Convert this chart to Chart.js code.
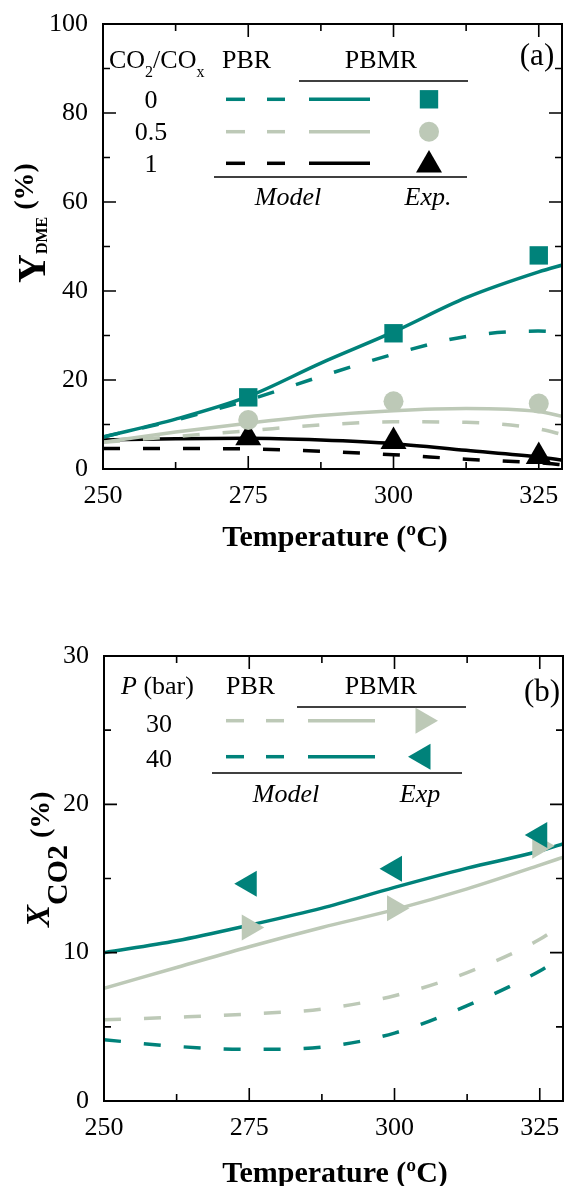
<!DOCTYPE html>
<html><head><meta charset="utf-8">
<script src="https://cdn.jsdelivr.net/npm/chart.js@4.4.1/dist/chart.umd.min.js"></script>
<style>
html,body{margin:0;padding:0;background:#fff;width:568px;height:1186px;overflow:hidden}
#ca{position:absolute;left:0;top:0}
#cb{position:absolute;left:0;top:590px}
</style></head><body>
<canvas id="ca" width="568" height="560"></canvas>
<canvas id="cb" width="568" height="596"></canvas>
<script>
// ---------- data ----------
const modelT = [250, 262.5, 275, 287.5, 300, 312.5, 325, 329.5];
const expT = [275, 300, 325];
// (a) DME yield (%)
const a_PBR_0    = [7.2, 11.0, 15.5, 20.8, 25.8, 29.8, 31.0, 30.6];
const a_PBMR_0   = [7.2, 11.2, 16.3, 23.8, 30.8, 38.5, 44.3, 46.0];
const a_PBR_05   = [6.0, 7.3, 8.6, 9.9, 10.6, 10.5, 9.0, 7.6];
const a_PBMR_05  = [6.0, 8.3, 10.3, 12.0, 13.1, 13.6, 12.9, 11.7];
const a_PBR_1    = [4.6, 4.6, 4.5, 4.0, 3.2, 2.2, 1.4, 0.9];
const a_PBMR_1   = [6.5, 6.8, 6.9, 6.5, 5.7, 4.2, 2.7, 1.9];
const a_Exp_0    = [16.1, 30.5, 48.0];
const a_Exp_05   = [11.0, 15.2, 14.7];
const a_Exp_1    = [7.0, 6.2, 2.8];
const a_xTicks = [250, 275, 300, 325];
const a_yTicks = [0, 20, 40, 60, 80, 100];
// (b) CO2 conversion (%)
const b_PBR_30   = [5.47, 5.65, 5.87, 6.2, 7.1, 8.66, 10.9, 12.1];
const b_PBMR_30  = [7.6, 9.0, 10.4, 11.7, 12.9, 14.3, 15.9, 16.5];
const b_PBR_40   = [4.13, 3.68, 3.48, 3.64, 4.58, 6.43, 8.77, 9.9];
const b_PBMR_40  = [10.0, 10.8, 11.85, 13.0, 14.4, 15.7, 16.85, 17.4];
const b_Exp_30   = [11.7, 13.0, 17.2];
const b_Exp_40   = [14.65, 15.66, 17.93];
const b_yTicks = [0, 10, 20, 30];

const TEAL = '#00827A', SAGE = '#BDC9B7', BLACK = '#000000';
const F = "'Liberation Serif', 'Times New Roman', serif";
const DASH = [17, 23];

const pts = (xs, ys) => xs.map((x, i) => ({x, y: ys[i]}));

function lineDS(ys, color, dashed) {
  return {type: 'line', data: pts(modelT, ys), borderColor: color, borderWidth: 3.5,
    borderDash: dashed ? DASH : [], pointRadius: 0, cubicInterpolationMode: 'monotone', fill: false};
}
function expDS(ys, color, style, r, rot) {
  return {type: 'line', data: pts(expT, ys), showLine: false, pointStyle: style, pointRadius: r,
    pointRotation: rot || 0, backgroundColor: color, borderColor: color, borderWidth: 0, pointHoverRadius: r};
}

// ---------- drawing helpers ----------
function rich(ctx, x, y, parts, align) {
  let w = 0;
  for (const p of parts) { ctx.font = p.f; w += ctx.measureText(p.t).width; }
  let cx = align === 'center' ? x - w / 2 : x;
  ctx.textBaseline = 'alphabetic'; ctx.textAlign = 'left';
  for (const p of parts) { ctx.font = p.f; ctx.fillText(p.t, cx, y + (p.dy || 0)); cx += ctx.measureText(p.t).width; }
}
function richRot(ctx, x, y, parts) {
  ctx.save(); ctx.translate(x, y); ctx.rotate(-Math.PI / 2);
  rich(ctx, 0, 0, parts); ctx.restore();
}
function marker(ctx, type, x, y, r, rotDeg, color) {
  ctx.save(); ctx.fillStyle = color; ctx.beginPath();
  if (type === 'rect') { const s = r * Math.SQRT1_2; ctx.rect(x - s, y - s, 2 * s, 2 * s); }
  else if (type === 'circle') { ctx.arc(x, y, r, 0, Math.PI * 2); }
  else { let rad = (rotDeg || 0) * Math.PI / 180;
    ctx.moveTo(x + Math.sin(rad) * r, y - Math.cos(rad) * r); rad += 2 * Math.PI / 3;
    ctx.lineTo(x + Math.sin(rad) * r, y - Math.cos(rad) * r); rad += 2 * Math.PI / 3;
    ctx.lineTo(x + Math.sin(rad) * r, y - Math.cos(rad) * r); ctx.closePath(); }
  ctx.fill(); ctx.restore();
}
function hline(ctx, x1, x2, y, w, color, dash) {
  ctx.save(); ctx.strokeStyle = color; ctx.lineWidth = w; ctx.setLineDash(dash || []);
  ctx.beginPath(); ctx.moveTo(x1, y); ctx.lineTo(x2, y); ctx.stroke(); ctx.restore();
}

const frameTicks = {
  id: 'frameTicks',
  afterDatasetsDraw(chart) {
    const {ctx, chartArea: a, scales: {x, y}} = chart;
    ctx.save(); ctx.strokeStyle = '#000'; ctx.lineWidth = 1.6;
    const both = (sc, horiz) => {
      const tv = sc.ticks.map(t => t.value); const st = tv[1] - tv[0];
      const list = [];
      tv.forEach(v => { list.push([v, 13]); if (v + st / 2 < sc.max) list.push([v + st / 2, 7]); });
      list.forEach(([v, L]) => {
        const p = sc.getPixelForValue(v);
        ctx.beginPath();
        if (horiz) { ctx.moveTo(p, a.bottom); ctx.lineTo(p, a.bottom - L); ctx.moveTo(p, a.top); ctx.lineTo(p, a.top + L); }
        else { ctx.moveTo(a.left, p); ctx.lineTo(a.left + L, p); ctx.moveTo(a.right, p); ctx.lineTo(a.right - L, p); }
        ctx.stroke();
      });
    };
    both(x, true); both(y, false);
    ctx.lineWidth = 2;
    ctx.strokeRect(a.left, a.top, a.right - a.left, a.bottom - a.top);
    ctx.restore();
  }
};

function baseOptions(xmin, xmax, xTicks, ymin, ymax, yTicks, padTop, xH, yW, padRight) {
  return {
    responsive: false, devicePixelRatio: 1, animation: false, events: [],
    layout: {autoPadding: false, padding: {top: padTop, right: padRight, left: 0, bottom: 0}},
    plugins: {legend: {display: false}, title: {display: false}, tooltip: {enabled: false}},
    scales: {
      x: {type: 'linear', min: xmin, max: xmax,
        afterFit(s) { s.height = xH; s.paddingLeft = 0; s.paddingRight = 0; },
        afterBuildTicks(s) { s.ticks = xTicks.map(v => ({value: v})); },
        ticks: {font: {family: F, size: 26}, color: '#000', padding: 12, maxRotation: 0, autoSkip: false},
        grid: {display: false, drawTicks: false}, border: {display: false}},
      y: {type: 'linear', min: ymin, max: ymax,
        afterFit(s) { s.width = yW; s.paddingTop = 0; s.paddingBottom = 0; },
        afterBuildTicks(s) { s.ticks = yTicks.map(v => ({value: v})); },
        ticks: {font: {family: F, size: 26}, color: '#000', padding: 15, autoSkip: false},
        grid: {display: false, drawTicks: false}, border: {display: false}}
    }
  };
}

// ---------- chart (a) ----------
const legendA = {
  id: 'legendA',
  afterDraw(chart) {
    const ctx = chart.ctx; ctx.save(); ctx.fillStyle = '#000';
    const R = '26px ' + F, S = '16px ' + F, I = 'italic 26px ' + F;
    rich(ctx, 109, 68, [{t: 'CO', f: R}, {t: '2', f: S, dy: 9}, {t: '/CO', f: R}, {t: 'x', f: S, dy: 9}]);
    rich(ctx, 222, 68, [{t: 'PBR', f: R}]);
    rich(ctx, 381, 68, [{t: 'PBMR', f: R}], 'center');
    hline(ctx, 299, 468, 81, 1.5, '#000');
    const rows = [['0', 108, 99.3, TEAL, 'rect', 13, 99.3], ['0.5', 140, 131.7, SAGE, 'circle', 10, 131.7], ['1', 172, 163.3, BLACK, 'triangle', 15, 165]];
    rows.forEach(([lab, base, ly, col, st, r, my]) => {
      ctx.fillStyle = '#000'; rich(ctx, 151, base, [{t: lab, f: R}], 'center');
      hline(ctx, 226, 245, ly, 3.5, col); hline(ctx, 267, 285, ly, 3.5, col);
      hline(ctx, 309, 370, ly, 3.5, col);
      marker(ctx, st, 429, my, r, 0, col);
    });
    hline(ctx, 214, 467, 177, 1.5, '#000');
    ctx.fillStyle = '#000';
    rich(ctx, 288, 205, [{t: 'Model', f: I}], 'center');
    rich(ctx, 428, 205, [{t: 'Exp.', f: I}], 'center');
    rich(ctx, 537, 65, [{t: '(a)', f: '31px ' + F}], 'center');
    // axis titles
    const B = 'bold 28px ' + F;
    rich(ctx, 335, 546, [{t: 'Temperature (ºC)', f: 'bold 30px ' + F}], 'center');
    richRot(ctx, 45, 283, [{t: 'Y', f: 'bold 40px ' + F}, {t: 'DME', f: 'bold 16px ' + F, dy: 2}, {t: ' (%)', f: B, dy: -12}]);
    ctx.restore();
  }
};

new Chart(document.getElementById('ca'), {
  type: 'line',
  data: {datasets: [
    expDS(a_Exp_0, TEAL, 'rect', 13), expDS(a_Exp_05, SAGE, 'circle', 10), expDS(a_Exp_1, BLACK, 'triangle', 15),
    lineDS(a_PBMR_0, TEAL, false), lineDS(a_PBR_0, TEAL, true),
    lineDS(a_PBMR_05, SAGE, false), lineDS(a_PBR_05, SAGE, true),
    lineDS(a_PBMR_1, BLACK, false), lineDS(a_PBR_1, BLACK, true)
  ]},
  options: baseOptions(250, 329, a_xTicks, 0, 100, a_yTicks, 24, 91, 103, 6),
  plugins: [frameTicks, legendA]
});

// ---------- chart (b) ----------
const OFF = 590;
const legendB = {
  id: 'legendB',
  afterDraw(chart) {
    const ctx = chart.ctx; ctx.save(); ctx.fillStyle = '#000';
    const R = '26px ' + F, I = 'italic 26px ' + F;
    rich(ctx, 121, 694 - OFF, [{t: 'P', f: I}, {t: ' (bar)', f: R}]);
    rich(ctx, 226, 694 - OFF, [{t: 'PBR', f: R}]);
    rich(ctx, 381, 694 - OFF, [{t: 'PBMR', f: R}], 'center');
    hline(ctx, 297, 466, 707 - OFF, 1.5, '#000');
    const rows = [['30', 732, 720.7, SAGE, 90], ['40', 767, 756.7, TEAL, -90]];
    rows.forEach(([lab, base, ly, col, rot]) => {
      ctx.fillStyle = '#000'; rich(ctx, 159, base - OFF, [{t: lab, f: R}], 'center');
      hline(ctx, 226, 244, ly - OFF, 3.5, col); hline(ctx, 266, 284, ly - OFF, 3.5, col);
      hline(ctx, 308, 375, ly - OFF, 3.5, col);
      marker(ctx, 'triangle', 423, ly - OFF, 15, rot, col);
    });
    hline(ctx, 212, 462, 773 - OFF, 1.5, '#000');
    ctx.fillStyle = '#000';
    rich(ctx, 286, 802 - OFF, [{t: 'Model', f: I}], 'center');
    rich(ctx, 420, 802 - OFF, [{t: 'Exp', f: I}], 'center');
    rich(ctx, 542, 701 - OFF, [{t: '(b)', f: '31px ' + F}], 'center');
    const B = 'bold 28px ' + F;
    rich(ctx, 335, 1182 - OFF, [{t: 'Temperature (ºC)', f: 'bold 30px ' + F}], 'center');
    richRot(ctx, 49, 927 - OFF, [{t: 'X', f: 'italic bold 33px ' + F}, {t: 'CO2', f: 'bold 30px ' + F, dy: 18}, {t: ' (%)', f: B, dy: 0}]);
    ctx.restore();
  }
};

new Chart(document.getElementById('cb'), {
  type: 'line',
  data: {datasets: [
    expDS(b_Exp_40, TEAL, 'triangle', 15, -90), expDS(b_Exp_30, SAGE, 'triangle', 15, 90),
    lineDS(b_PBMR_40, TEAL, false), lineDS(b_PBR_40, TEAL, true),
    lineDS(b_PBMR_30, SAGE, false), lineDS(b_PBR_30, SAGE, true)
  ]},
  options: baseOptions(250, 329, a_xTicks, 0, 30, b_yTicks, 66, 85, 104, 5),
  plugins: [frameTicks, legendB]
});
</script>
</body></html>
